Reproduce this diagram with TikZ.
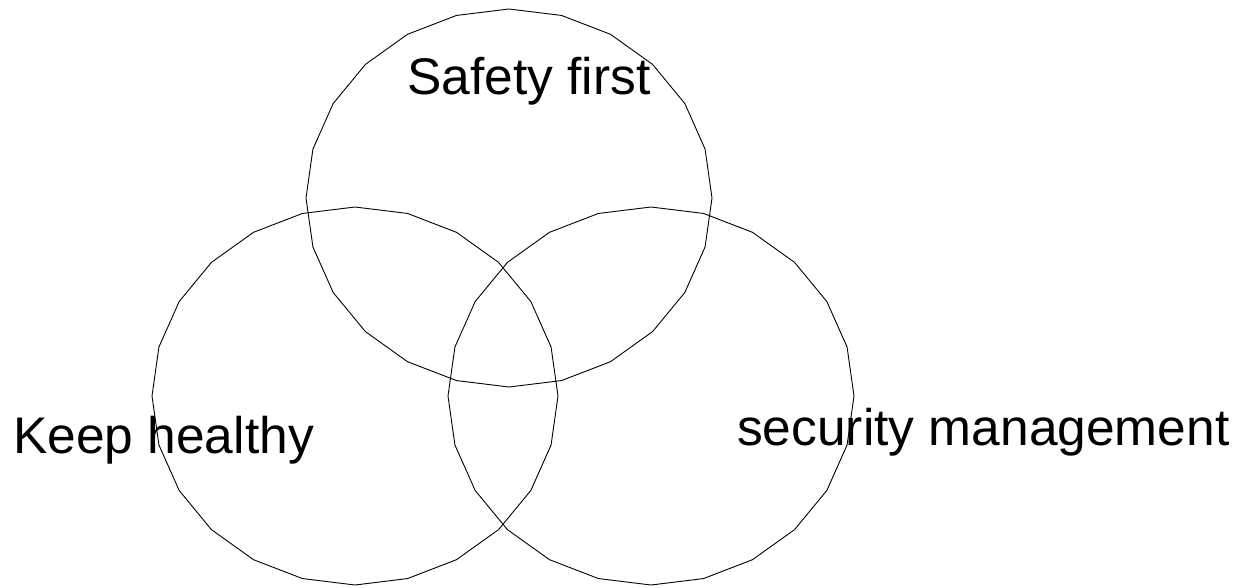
\documentclass[tikz,border=0pt]{standalone}
\usepackage{fontspec}
\setmainfont{Liberation Sans}
\usepackage{tikz}
\usetikzlibrary{positioning}

\begin{document}
\begin{tikzpicture}[
    x=1pt, y=-1pt,
    venn/.style={draw=black, line width=0.9pt, line join=miter},
    caption/.style={anchor=base west, inner sep=0pt, font=\fontsize{51.5}{60}\selectfont},
]
\useasboundingbox (0,0) rectangle (1243,587);

% three overlapping sets (24-sided)
\foreach \cx/\cy in {509/198, 355/396, 651/396}
    \draw[venn, shift={(\cx,\cy)}] plot[samples=25, domain=90:450] ({203*cos(\x)},{189*sin(\x)}) -- cycle;

% labels
\node[caption] (safety) at (407,94) {Safety first};
\node[caption] (health) at (13,453) {Keep healthy};
\node[caption] (secure) at (737,445) {security management};

\end{tikzpicture}
\end{document}
